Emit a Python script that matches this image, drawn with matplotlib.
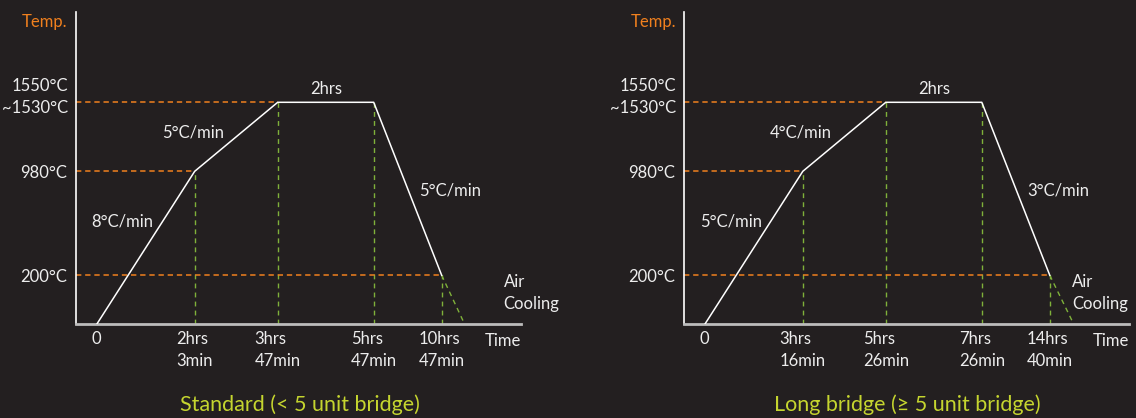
import numpy as np
import matplotlib.pyplot as plt

BG = '#231f20'
TXT = '#ededed'
ORANGE = '#f0801e'
GREEN = '#7fb13a'
TITLE = '#c5d52f'

plt.rcParams['font.family'] = ['Lato', 'DejaVu Sans']

# temperature at each stage (start, end of fast ramp, soak start, soak end, end of slow cooling)
temps = [0, 980, 1530, 1530, 200]
temp_ticks = [200, 980]
temp_labels = ['200°C', '980°C']
soak_temp = 1530
soak_label = '1550°C\n~1530°C'
soak_time = '2hrs'

std_times = ['0', '2hrs\n3min', '3hrs\n47min', '5hrs\n47min', '10hrs\n47min']
std_rates = ['8°C/min', '5°C/min', '5°C/min']
long_times = ['0', '3hrs\n16min', '5hrs\n26min', '7hrs\n26min', '14hrs\n40min']
long_rates = ['5°C/min', '4°C/min', '3°C/min']

# schematic layout (not to scale), in pixels from the axes origin
STAGE_X = [21, 119, 202, 298, 366]
AXIS_W, AXIS_H = 445, 312
# temperature -> height mapping of the drawing
T_PTS = [0, 200, 980, 1530, 2400]
H_PTS = [0, 49, 153, 222, 312]


def fwd(t):
    return np.interp(t, T_PTS, H_PTS)


def inv(h):
    return np.interp(h, H_PTS, T_PTS)


W, H = 1136, 418
fig = plt.figure(figsize=(W / 100, H / 100), dpi=100)
fig.patch.set_facecolor(BG)
BASE_Y = 324.3
FS = 12


def ftext(x, y, s, **kw):
    kw.setdefault('color', TXT)
    kw.setdefault('fontsize', FS)
    fig.text(x / W, 1 - y / H, s, **kw)


def panel(left, times, rates, title, air_x, air_lbl):
    ax = fig.add_axes([left / W, (H - BASE_Y) / H, AXIS_W / W, AXIS_H / H])
    ax.set_facecolor(BG)
    ax.set_yscale('function', functions=(fwd, inv))
    ax.set_xlim(0, AXIS_W)
    ax.set_ylim(0, 2400)

    for s in ['top', 'right']:
        ax.spines[s].set_visible(False)
    ax.spines['left'].set_color('white')
    ax.spines['left'].set_linewidth(1.2)
    ax.spines['bottom'].set_color('#bcbcbc')
    ax.spines['bottom'].set_linewidth(2)

    # guide lines
    for i in [1, 2, 3, 4]:
        ax.plot([STAGE_X[i], STAGE_X[i]], [0, temps[i]], color=GREEN,
                lw=1.0, ls=(0, (3.5, 3)), zorder=2)
    for i in [1, 2, 4]:
        ax.plot([0, STAGE_X[i]], [temps[i], temps[i]], color=ORANGE,
                lw=1.1, ls=(0, (3.5, 2.5)), zorder=2)
    # air cooling
    ax.plot([STAGE_X[4], air_x], [temps[4], 0], color=GREEN,
            lw=1.0, ls=(0, (3.5, 3)), zorder=2)

    ax.plot(STAGE_X, temps, color='white', lw=1.1, zorder=3)

    ax.set_xticks(STAGE_X, times)
    ax.set_yticks(temp_ticks, temp_labels)
    ax.tick_params(axis='x', length=0, pad=5, colors=TXT, labelsize=FS)
    ax.tick_params(axis='y', length=0, pad=6, colors=TXT, labelsize=FS)
    for lb in ax.get_xticklabels():
        lb.set_multialignment('left')
        lb.set_linespacing(1.45)
    ax.yaxis.set_minor_locator(plt.NullLocator())
    ax.annotate(soak_label, xy=(0, soak_temp), xytext=(-8, 5),
                textcoords='offset pixels', ha='right', va='center',
                multialignment='right', linespacing=1.45, color=TXT,
                fontsize=FS, annotation_clip=False)

    ftext(left + AXIS_W, 341, 'Time', ha='right', va='center')
    ftext(left - 8, 22, 'Temp.', ha='right', va='center', color=ORANGE)
    ftext(left + 47, 221, rates[0], ha='center', va='center')
    ftext(left + 117, 133, rates[1], ha='center', va='center')
    ftext(left + 374, 190, rates[2], ha='center', va='center')
    ftext(left + 250, 89, soak_time, ha='center', va='center')
    ftext(left + air_lbl, 293, 'Air\nCooling', ha='left', va='center',
          linespacing=1.45)
    ftext(left + 224, 405, title, ha='center', va='center', color=TITLE,
          fontsize=15.5)
    return ax


panel(75.7, std_times, std_rates, 'Standard (< 5 unit bridge)', 389, 428)
panel(683.8, long_times, long_rates, 'Long bridge (≥ 5 unit bridge)', 390, 388)

fig.savefig('out.png', dpi=100, facecolor=BG)
